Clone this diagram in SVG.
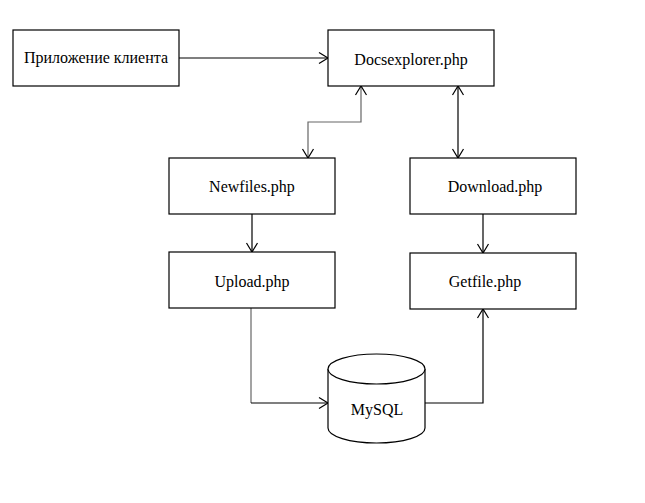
<svg xmlns="http://www.w3.org/2000/svg" width="645" height="503" viewBox="0 0 645 503">
<style>
.box{fill:#fff;stroke:#000;stroke-width:1.2}
.lbl{font-family:'Liberation Serif','DejaVu Serif',serif;font-size:16px;fill:#000;text-anchor:middle}
.con{fill:none;stroke:#000;stroke-width:1.2}
.gray{stroke:#666}
</style>
<defs>
<marker id="arr" markerUnits="userSpaceOnUse" markerWidth="12" markerHeight="14" refX="10" refY="7" orient="auto-start-reverse">
<path d="M1,1.5 L10,7 L1,12.5" fill="none" stroke="#000" stroke-width="1.2"/>
</marker>
</defs>
<rect width="645" height="503" fill="#fff"/>
<g id="connectors">
<path class="con" d="M179,58 H328" marker-end="url(#arr)"/>
<path class="con gray" d="M361,86 V122 H308 V158" marker-start="url(#arr)" marker-end="url(#arr)"/>
<path class="con" d="M458,86 V158" marker-start="url(#arr)" marker-end="url(#arr)"/>
<path class="con" d="M252,214 V252" marker-end="url(#arr)"/>
<path class="con" d="M483,214 V253" marker-end="url(#arr)"/>
<path class="con gray" d="M251,308 V403"/>
<path class="con" d="M251,403 H328" marker-end="url(#arr)"/>
<path class="con" d="M425,403 H483 V309" marker-end="url(#arr)"/>
</g>
<g id="client">
<rect class="box" x="13" y="30" width="166" height="56"/>
<text class="lbl" x="96" y="63">Приложение клиента</text>
</g>
<g id="docsexplorer">
<rect class="box" x="328" y="30" width="166" height="56"/>
<text class="lbl" x="411" y="65">Docsexplorer.php</text>
</g>
<g id="newfiles">
<rect class="box" x="169" y="158" width="166" height="56"/>
<text class="lbl" x="252" y="192">Newfiles.php</text>
</g>
<g id="download">
<rect class="box" x="410" y="158" width="166" height="56"/>
<text class="lbl" x="495" y="192">Download.php</text>
</g>
<g id="upload">
<rect class="box" x="169" y="252" width="166" height="56"/>
<text class="lbl" x="252" y="287">Upload.php</text>
</g>
<g id="getfile">
<rect class="box" x="410" y="253" width="166" height="56"/>
<text class="lbl" x="485" y="287">Getfile.php</text>
</g>
<g id="mysql">
<path class="box" d="M328,369 V428 A48.5,15 0 0 0 425,428 V369"/>
<ellipse class="box" cx="376.5" cy="369" rx="48.5" ry="15"/>
<text class="lbl" x="377" y="415">MySQL</text>
</g>
</svg>
